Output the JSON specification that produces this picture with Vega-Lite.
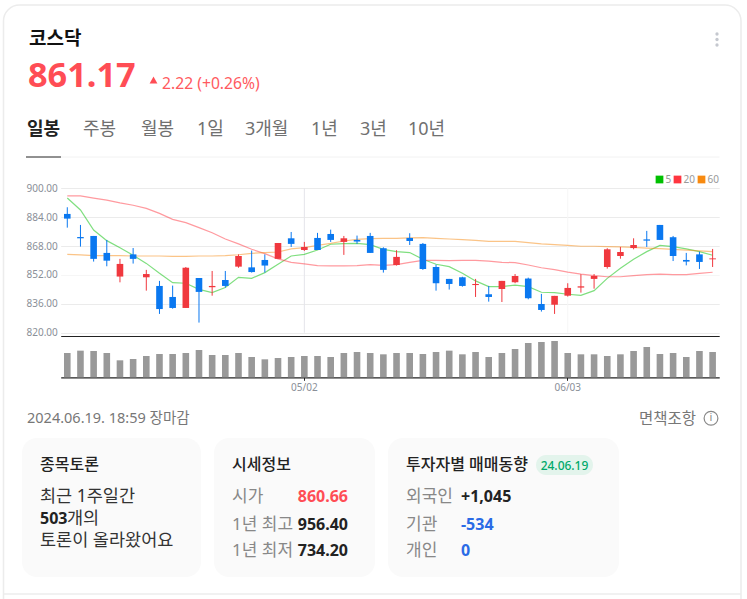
{
"$schema":"https://vega.github.io/schema/vega-lite/v6.json",
"width":747,"height":599,"padding":0,"autosize":{"type":"none"},"background":"#ffffff",
"config":{"view":{"stroke":null},"font":"Noto Sans, Noto Sans CJK KR","text":{"font":"Noto Sans, Noto Sans CJK KR"}},
"datasets":{"days":[
{"date":"04/04","open":885.8,"high":889.5,"low":878.2,"close":883.2,"volume":73,"ma5":894.6,"ma20":895.8,"ma60":863.4},
{"date":"04/05","open":873.0,"high":879.7,"low":867.7,"close":872.3,"volume":80,"ma5":888.0,"ma20":895.8,"ma60":863.1},
{"date":"04/08","open":873.6,"high":873.6,"low":859.4,"close":860.9,"volume":79,"ma5":876.9,"ma20":894.6,"ma60":862.7},
{"date":"04/09","open":864.2,"high":871.4,"low":856.8,"close":859.9,"volume":73,"ma5":871.0,"ma20":893.4,"ma60":862.7},
{"date":"04/11","open":851.1,"high":860.9,"low":847.9,"close":858.1,"volume":51,"ma5":867.1,"ma20":891.9,"ma60":862.7},
{"date":"04/12","open":863.4,"high":866.9,"low":858.3,"close":860.9,"volume":55,"ma5":862.9,"ma20":890.6,"ma60":862.5},
{"date":"04/15","open":850.7,"high":854.8,"low":843.3,"close":852.5,"volume":64,"ma5":858.4,"ma20":888.9,"ma60":862.5},
{"date":"04/16","open":845.9,"high":848.7,"low":830.4,"close":833.1,"volume":70,"ma5":852.9,"ma20":886.1,"ma60":862.5},
{"date":"04/17","open":839.8,"high":846.1,"low":833.3,"close":833.7,"volume":70,"ma5":847.7,"ma20":882.8,"ma60":862.3},
{"date":"04/18","open":833.7,"high":856.4,"low":833.7,"close":856.0,"volume":73,"ma5":847.4,"ma20":881.0,"ma60":862.3},
{"date":"04/19","open":850.3,"high":850.3,"low":825.6,"close":842.6,"volume":82,"ma5":844.0,"ma20":878.2,"ma60":862.5},
{"date":"04/22","open":845.2,"high":854.2,"low":840.5,"close":845.9,"volume":67,"ma5":842.2,"ma20":875.4,"ma60":862.5},
{"date":"04/23","open":849.2,"high":854.2,"low":845.0,"close":845.9,"volume":67,"ma5":845.0,"ma20":871.9,"ma60":862.7},
{"date":"04/24","open":856.6,"high":863.4,"low":856.0,"close":862.5,"volume":73,"ma5":850.7,"ma20":869.2,"ma60":863.2},
{"date":"04/25","open":856.2,"high":865.5,"low":853.3,"close":853.6,"volume":61,"ma5":850.1,"ma20":866.2,"ma60":864.0},
{"date":"04/26","open":860.3,"high":863.4,"low":853.3,"close":857.2,"volume":54,"ma5":853.3,"ma20":863.8,"ma60":864.4},
{"date":"04/29","open":860.9,"high":869.7,"low":860.9,"close":869.7,"volume":58,"ma5":857.9,"ma20":860.9,"ma60":864.7},
{"date":"04/30","open":872.3,"high":875.8,"low":867.5,"close":869.2,"volume":61,"ma5":862.5,"ma20":859.0,"ma60":866.4},
{"date":"05/02","open":865.8,"high":870.3,"low":865.3,"close":867.5,"volume":64,"ma5":863.4,"ma20":858.1,"ma60":867.1},
{"date":"05/03","open":872.5,"high":875.3,"low":865.8,"close":865.8,"volume":64,"ma5":865.8,"ma20":857.2,"ma60":868.4},
{"date":"05/07","open":874.7,"high":877.1,"low":870.3,"close":871.4,"volume":61,"ma5":869.0,"ma20":857.0,"ma60":869.5},
{"date":"05/08","open":870.3,"high":873.6,"low":863.1,"close":872.3,"volume":73,"ma5":869.3,"ma20":857.0,"ma60":870.8},
{"date":"05/09","open":871.4,"high":873.8,"low":869.2,"close":870.5,"volume":76,"ma5":869.5,"ma20":857.2,"ma60":871.7},
{"date":"05/10","open":873.6,"high":875.3,"low":864.2,"close":864.2,"volume":73,"ma5":868.8,"ma20":857.7,"ma60":872.1},
{"date":"05/13","open":866.8,"high":867.3,"low":853.3,"close":854.8,"volume":69,"ma5":866.2,"ma20":857.3,"ma60":872.3},
{"date":"05/14","open":857.5,"high":865.7,"low":857.2,"close":862.0,"volume":73,"ma5":864.9,"ma20":857.7,"ma60":872.3},
{"date":"05/16","open":872.5,"high":875.1,"low":868.6,"close":870.8,"volume":73,"ma5":864.4,"ma20":859.0,"ma60":872.5},
{"date":"05/17","open":869.2,"high":869.7,"low":854.8,"close":855.3,"volume":70,"ma5":860.7,"ma20":860.1,"ma60":872.7},
{"date":"05/20","open":856.4,"high":857.7,"low":843.3,"close":847.4,"volume":76,"ma5":857.9,"ma20":860.1,"ma60":872.3},
{"date":"05/21","open":849.8,"high":849.8,"low":843.9,"close":847.0,"volume":80,"ma5":856.6,"ma20":859.9,"ma60":871.9},
{"date":"05/22","open":850.7,"high":851.0,"low":845.5,"close":845.9,"volume":69,"ma5":852.9,"ma20":860.1,"ma60":871.6},
{"date":"05/23","open":846.4,"high":849.8,"low":839.8,"close":847.0,"volume":76,"ma5":848.7,"ma20":860.1,"ma60":871.2},
{"date":"05/24","open":841.3,"high":845.9,"low":837.2,"close":839.8,"volume":61,"ma5":845.5,"ma20":859.7,"ma60":870.6},
{"date":"05/27","open":844.2,"high":848.7,"low":837.0,"close":848.7,"volume":73,"ma5":845.5,"ma20":859.0,"ma60":870.6},
{"date":"05/28","open":847.9,"high":852.5,"low":847.4,"close":851.4,"volume":85,"ma5":846.4,"ma20":858.8,"ma60":870.6},
{"date":"05/29","open":850.0,"high":850.5,"low":838.5,"close":839.1,"volume":103,"ma5":845.5,"ma20":857.5,"ma60":869.9},
{"date":"05/30","open":835.9,"high":841.5,"low":831.7,"close":832.6,"volume":106,"ma5":842.4,"ma20":856.0,"ma60":869.2},
{"date":"05/31","open":835.5,"high":840.4,"low":830.4,"close":840.4,"volume":109,"ma5":842.2,"ma20":854.9,"ma60":868.8},
{"date":"06/03","open":840.5,"high":847.4,"low":840.0,"close":844.8,"volume":73,"ma5":841.3,"ma20":853.6,"ma60":868.4},
{"date":"06/04","open":845.0,"high":852.4,"low":842.2,"close":845.7,"volume":69,"ma5":840.7,"ma20":852.5,"ma60":867.9},
{"date":"06/05","open":849.8,"high":852.5,"low":844.4,"close":851.4,"volume":69,"ma5":843.3,"ma20":851.6,"ma60":867.9},
{"date":"06/07","open":856.4,"high":866.8,"low":855.5,"close":866.2,"volume":64,"ma5":850.1,"ma20":851.0,"ma60":867.7},
{"date":"06/10","open":862.5,"high":867.5,"low":861.0,"close":864.7,"volume":69,"ma5":855.7,"ma20":851.0,"ma60":867.5},
{"date":"06/11","open":866.9,"high":872.3,"low":866.2,"close":868.6,"volume":79,"ma5":860.7,"ma20":851.6,"ma60":867.3},
{"date":"06/12","open":871.7,"high":876.4,"low":867.5,"close":871.0,"volume":91,"ma5":864.9,"ma20":852.2,"ma60":866.9},
{"date":"06/13","open":879.7,"high":879.7,"low":871.4,"close":871.4,"volume":70,"ma5":868.4,"ma20":852.4,"ma60":866.6},
{"date":"06/14","open":872.9,"high":873.6,"low":859.7,"close":862.5,"volume":73,"ma5":867.7,"ma20":852.2,"ma60":866.2},
{"date":"06/17","open":860.3,"high":864.2,"low":857.3,"close":859.4,"volume":61,"ma5":866.4,"ma20":852.2,"ma60":865.8},
{"date":"06/18","open":863.4,"high":864.9,"low":855.3,"close":859.2,"volume":79,"ma5":864.9,"ma20":852.9,"ma60":865.3},
{"date":"06/19","open":860.66,"high":866.4,"low":856.4,"close":861.17,"volume":76,"ma5":862.9,"ma20":853.5,"ma60":864.9}
]},
"resolve":{"scale":{"x":"independent","y":"independent","color":"independent"}},
"layer":[
{"encoding":{
"x":{"field":"col","type":"quantitative","axis":null,"scale":{"zero":false,"nice":false,"domain":[0,1,2,3,4,5,6,7,8,9,10,11,12,13,14,15,16,17,18,19,20,21,22,23,24,25,26,27,28,29,30,31,32,33,34],"range":[3.5,22,26,27,28,29,40,61,67,83,141,153.5,162,197,201,214,232,245,311,348,360,375,388,406,408,461,536,564.5,593,619,639,711,717,719.5,741]}},
"y":{"field":"row","type":"quantitative","axis":null,"scale":{"zero":false,"nice":false,"domain":[0,1,2,3,4,5,6,7,8,9,10,11,12,13,14,15,16,17,18,19,20,21,22,23],"range":[5,34,39.4,39.5,45,76.5,80,84,130.3,157,419.3,438,455,465.3,465.5,475,497.3,518.5,524.5,541,550.5,577,594,640]}}},
"layer":[
{"data":{"values":[{"col":0,"col2":34,"row":0,"row2":23}]},"mark":{"type":"rect","cornerRadius":16,"fillOpacity":0,"fill":"#ffffff","stroke":"#ececec","strokeWidth":1.5},"encoding":{"x2":{"field":"col2"},"y2":{"field":"row2"}}},
{"data":{"values":[{"col":1,"col2":14,"row":11,"row2":21},{"col":15,"col2":21,"row":11,"row2":21},{"col":22,"col2":29,"row":11,"row2":21}]},"mark":{"type":"rect","cornerRadius":15,"fill":"#fafafa"},"encoding":{"x2":{"field":"col2"},"y2":{"field":"row2"}}},
{"data":{"values":[{"col":26,"col2":28,"row":12,"row2":15}]},"mark":{"type":"rect","cornerRadius":10,"fill":"#e3f4ec"},"encoding":{"x2":{"field":"col2"},"y2":{"field":"row2"}}},
{"data":{"values":[{"col":7,"col2":33,"row":9}]},"mark":{"type":"rule","stroke":"#f2f2f2","strokeWidth":1},"encoding":{"x2":{"field":"col2"}}},
{"data":{"values":[{"col":2,"col2":7,"row":9}]},"mark":{"type":"rule","stroke":"#222222","strokeWidth":1},"encoding":{"x2":{"field":"col2"}}},
{"data":{"values":[{"col":0,"col2":34,"row":22}]},"mark":{"type":"rule","stroke":"#ececec","strokeWidth":1.5},"encoding":{"x2":{"field":"col2"}}},
{"data":{"values":[{"col":32,"row":1},{"col":32,"row":3},{"col":32,"row":4}]},"mark":{"type":"point","filled":true,"opacity":1,"size":11,"color":"#c5c8cf"},"encoding":{}},
{"data":{"values":[{"col":11,"row":6}]},"mark":{"type":"point","shape":"triangle-up","filled":true,"opacity":1,"size":62,"color":"#ff4d55"},"encoding":{}},
{"data":{"values":[{"col":31,"row":10}]},"mark":{"type":"point","shape":"circle","filled":false,"opacity":1,"size":190,"stroke":"#888888","strokeWidth":1.2,"yOffset":-1},"encoding":{}},
{"data":{"values":[{"t":"코스닥","col":5,"row":2}]},"mark":{"type":"text","align":"left","baseline":"middle","fontSize":19,"fontWeight":700,"color":"#111111"},"encoding":{"text":{"field":"t"}}},
{"data":{"values":[{"t":"861.17","col":4,"row":5}]},"mark":{"type":"text","align":"left","baseline":"middle","fontSize":34.3,"fontWeight":700,"color":"#ff4d55"},"encoding":{"text":{"field":"t"}}},
{"data":{"values":[{"t":"2.22 (+0.26%)","col":12,"row":7}]},"mark":{"type":"text","align":"left","baseline":"middle","fontSize":15.7,"color":"#ff5a60"},"encoding":{"text":{"field":"t"}}},
{"data":{"values":[{"t":"일봉","col":3,"row":8}]},"mark":{"type":"text","align":"left","baseline":"middle","fontSize":18,"fontWeight":700,"color":"#222222"},"encoding":{"text":{"field":"t"}}},
{"data":{"values":[{"t":"주봉","col":9,"row":8},{"t":"월봉","col":10,"row":8},{"t":"1일","col":13,"row":8},{"t":"3개월","col":17,"row":8},{"t":"1년","col":18,"row":8},{"t":"3년","col":20,"row":8},{"t":"10년","col":24,"row":8}]},"mark":{"type":"text","align":"left","baseline":"middle","fontSize":18,"color":"#707070"},"encoding":{"text":{"field":"t"}}},
{"data":{"values":[{"t":"2024.06.19. 18:59 장마감","col":3,"row":10}]},"mark":{"type":"text","align":"left","baseline":"middle","fontSize":14.5,"color":"#777777"},"encoding":{"text":{"field":"t"}}},
{"data":{"values":[{"t":"면책조항","col":30,"row":10}]},"mark":{"type":"text","align":"left","baseline":"middle","fontSize":15.5,"color":"#777777"},"encoding":{"text":{"field":"t"}}},
{"data":{"values":[{"t":"i","col":31,"row":10}]},"mark":{"type":"text","align":"center","baseline":"middle","fontSize":11,"color":"#888888","dy":-1},"encoding":{"text":{"field":"t"}}},
{"data":{"values":[{"t":"종목토론","col":6,"row":13},{"t":"시세정보","col":16,"row":13},{"t":"투자자별 매매동향","col":23,"row":13}]},"mark":{"type":"text","align":"left","baseline":"middle","fontSize":16,"fontWeight":500,"color":"#222222"},"encoding":{"text":{"field":"t"}}},
{"data":{"values":[{"t":"24.06.19","col":27,"row":14}]},"mark":{"type":"text","align":"center","baseline":"middle","fontSize":12,"fontWeight":500,"color":"#00a96a"},"encoding":{"text":{"field":"t"}}},
{"data":{"values":[{"t":"최근 1주일간","col":6,"row":16},{"t":"개의","col":8,"row":17},{"t":"토론이 올라왔어요","col":6,"row":19}]},"mark":{"type":"text","align":"left","baseline":"middle","fontSize":17.5,"color":"#333333"},"encoding":{"text":{"field":"t"}}},
{"data":{"values":[{"t":"503","col":6,"row":17}]},"mark":{"type":"text","align":"left","baseline":"middle","fontSize":16,"fontWeight":700,"color":"#222222"},"encoding":{"text":{"field":"t"}}},
{"data":{"values":[{"t":"시가","col":16,"row":16},{"t":"1년 최고","col":16,"row":18},{"t":"1년 최저","col":16,"row":20},{"t":"외국인","col":23,"row":16},{"t":"기관","col":23,"row":18},{"t":"개인","col":23,"row":20}]},"mark":{"type":"text","align":"left","baseline":"middle","fontSize":17,"color":"#888888"},"encoding":{"text":{"field":"t"}}},
{"data":{"values":[{"t":"860.66","col":19,"row":16}]},"mark":{"type":"text","align":"right","baseline":"middle","fontSize":16,"fontWeight":700,"color":"#ff4d55"},"encoding":{"text":{"field":"t"}}},
{"data":{"values":[{"t":"956.40","col":19,"row":18},{"t":"734.20","col":19,"row":20}]},"mark":{"type":"text","align":"right","baseline":"middle","fontSize":16,"fontWeight":700,"color":"#222222"},"encoding":{"text":{"field":"t"}}},
{"data":{"values":[{"t":"+1,045","col":25,"row":16}]},"mark":{"type":"text","align":"left","baseline":"middle","fontSize":16,"fontWeight":700,"color":"#222222"},"encoding":{"text":{"field":"t"}}},
{"data":{"values":[{"t":"-534","col":25,"row":18},{"t":"0","col":25,"row":20}]},"mark":{"type":"text","align":"left","baseline":"middle","fontSize":16,"fontWeight":700,"color":"#2a6be6"},"encoding":{"text":{"field":"t"}}}
]},
{"data":{"name":"days"},
"encoding":{"x":{"field":"date","type":"ordinal","scale":{"type":"band","range":[60.7,719.2],"paddingInner":0,"paddingOuter":0},"axis":{"orient":"bottom","offset":-263,"values":["05/02","06/03"],"labels":false,"ticks":false,"title":null,"grid":false,"domainColor":"#222222","domainWidth":1.2}}},
"layer":[
{"transform":[{"filter":"datum.date==='05/02'||datum.date==='06/03'"}],"mark":{"type":"rule","strokeWidth":1},"encoding":{"y":{"datum":820,"type":"quantitative","scale":{"domain":[820,900],"range":[332.7,188.3],"zero":false,"nice":false},"axis":{"orient":"left","offset":-57.3,"labelPadding":0,"tickSize":0,"ticks":false,"domain":false,"values":[820,836,852,868,884,900],"format":".2f","title":null,"grid":true,"gridColor":{"condition":{"test":"datum.value===852","value":"#f6f6f6"},"value":"#ebebeb"},"gridWidth":1,"labelFontSize":10,"labelColor":"#8a8f98"}},"y2":{"datum":900},"color":{"condition":{"test":"datum.date==='05/02'","value":"#e4e4ea"},"value":"#f6f6f6"}}},
{"mark":{"type":"line","strokeWidth":1.2,"opacity":0.5},"transform":[{"fold":["ma5","ma20","ma60"],"as":["ma","value"]}],"encoding":{
"y":{"field":"value","type":"quantitative","scale":{"domain":[820,900],"range":[332.7,188.3],"zero":false,"nice":false},"axis":{"orient":"left","offset":-57.3,"labelPadding":0,"tickSize":0,"ticks":false,"domain":false,"values":[820,836,852,868,884,900],"format":".2f","title":null,"grid":true,"gridColor":{"condition":{"test":"datum.value===852","value":"#f6f6f6"},"value":"#ebebeb"},"gridWidth":1,"labelFontSize":10,"labelColor":"#8a8f98"}},
"color":{"field":"ma","type":"nominal","scale":{"domain":["ma5","ma20","ma60"],"range":["#00c000","#ff3540","#f88a10"]},"legend":{"orient":"none","legendX":654.5,"legendY":174.5,"direction":"horizontal","title":null,"padding":0,"symbolType":"square","symbolSize":14,"symbolStrokeWidth":4,"symbolOpacity":1,"labelFontSize":10,"labelColor":"#999999","labelOffset":1,"columnPadding":-4,"gridAlign":"none","labelExpr":"replace(datum.label,'ma','')"}}}},
{"mark":{"type":"rule","strokeWidth":1},"encoding":{"y":{"field":"high","type":"quantitative","scale":{"domain":[820,900],"range":[332.7,188.3],"zero":false,"nice":false},"axis":{"orient":"left","offset":-57.3,"labelPadding":0,"tickSize":0,"ticks":false,"domain":false,"values":[820,836,852,868,884,900],"format":".2f","title":null,"grid":true,"gridColor":{"condition":{"test":"datum.value===852","value":"#f6f6f6"},"value":"#ebebeb"},"gridWidth":1,"labelFontSize":10,"labelColor":"#8a8f98"}},"y2":{"field":"low"},"color":{"condition":{"test":"datum.close>=datum.open","value":"#f0383e"},"value":"#0a78f0"}}},
{"mark":{"type":"bar","size":6.6},"encoding":{"y":{"field":"open","type":"quantitative","scale":{"domain":[820,900],"range":[332.7,188.3],"zero":false,"nice":false},"axis":{"orient":"left","offset":-57.3,"labelPadding":0,"tickSize":0,"ticks":false,"domain":false,"values":[820,836,852,868,884,900],"format":".2f","title":null,"grid":true,"gridColor":{"condition":{"test":"datum.value===852","value":"#f6f6f6"},"value":"#ebebeb"},"gridWidth":1,"labelFontSize":10,"labelColor":"#8a8f98"}},"y2":{"field":"close"},"color":{"condition":{"test":"datum.close>=datum.open","value":"#f0383e"},"value":"#0a78f0"}}}
]},
{"data":{"name":"days"},"mark":{"type":"bar","size":6.6,"color":"#999999"},
"encoding":{"x":{"field":"date","type":"ordinal","scale":{"type":"band","range":[60.7,719.2],"paddingInner":0,"paddingOuter":0},"axis":{"orient":"bottom","offset":-221.7,"values":["05/02","06/03"],"title":null,"labelAngle":0,"tickSize":3,"tickColor":"#222222","domainColor":"#222222","domainWidth":1.2,"labelFontSize":10,"labelColor":"#8a8f98","labelPadding":2,"grid":false}},
"y":{"field":"volume","type":"quantitative","scale":{"domain":[0,124],"range":[377.3,336],"nice":false},"axis":null}}}
]}
